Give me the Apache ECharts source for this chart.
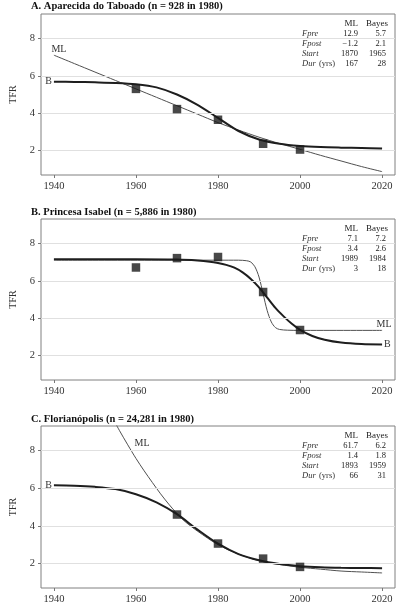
<!DOCTYPE html>
<html><head><meta charset="utf-8">
<script src="https://cdn.jsdelivr.net/npm/echarts@6/dist/echarts.min.js"></script>
<style>html,body{margin:0;padding:0;background:#fff}#c{width:400px;height:610px}</style>
</head><body><div id="c"></div>
<script>
const xTicks = [1940, 1960, 1980, 2000, 2020];
const yTicks = [2, 4, 6, 8];
const titles = ['A. Aparecida do Taboado (n = 928 in 1980)', 'B. Princesa Isabel (n = 5,886 in 1980)', 'C. Florianópolis (n = 24,281 in 1980)'];

// Panel A
const obsYearsA = [1960, 1970, 1980, 1991, 2000];
const obsA = [5.3, 4.22, 3.65, 2.37, 2.06];
const bayesYearsA = [1940, 1945, 1950, 1955, 1960, 1965, 1970, 1975, 1980, 1985, 1990, 1995, 2000, 2005, 2010, 2015, 2020];
const bayesA = [5.68, 5.67, 5.65, 5.62, 5.55, 5.38, 5.0, 4.45, 3.75, 3.05, 2.6, 2.37, 2.25, 2.19, 2.16, 2.14, 2.12];
const mlYearsA = [1940, 1945, 1950, 1955, 1960, 1965, 1970, 1975, 1980, 1985, 1990, 1995, 2000, 2005, 2010, 2015, 2020];
const mlA = [7.1, 6.65, 6.2, 5.75, 5.3, 4.85, 4.4, 3.95, 3.5, 3.1, 2.72, 2.38, 2.07, 1.75, 1.45, 1.15, 0.88];

// Panel B
const obsYearsB = [1960, 1970, 1980, 1991, 2000];
const obsB = [6.71, 7.21, 7.27, 5.4, 3.37];
const bayesYearsB = [1940, 1950, 1960, 1970, 1975, 1978, 1980, 1982, 1984, 1986, 1988, 1990, 1992, 1994, 1996, 1998, 2000, 2003, 2006, 2010, 2015, 2020];
const bayesB = [7.15, 7.15, 7.15, 7.13, 7.08, 7.02, 6.95, 6.85, 6.7, 6.45, 6.1, 5.65, 5.1, 4.55, 4.1, 3.7, 3.38, 3.05, 2.85, 2.7, 2.62, 2.6];
const mlYearsB = [1940, 1980, 1985, 1987, 1988, 1989, 1990, 1991, 1992, 1993, 1994, 1995, 1997, 2000, 2020];
const mlB = [7.1, 7.1, 7.1, 7.07, 7.0, 6.75, 6.2, 5.3, 4.4, 3.8, 3.5, 3.4, 3.36, 3.35, 3.35];

// Panel C
const obsYearsC = [1970, 1980, 1991, 2000];
const obsC = [4.6, 3.06, 2.26, 1.82];
const bayesYearsC = [1940, 1945, 1950, 1955, 1960, 1965, 1970, 1975, 1980, 1985, 1990, 1995, 2000, 2005, 2010, 2015, 2020];
const bayesC = [6.15, 6.13, 6.07, 5.95, 5.68, 5.25, 4.62, 3.8, 3.05, 2.5, 2.17, 1.97, 1.86, 1.8, 1.77, 1.76, 1.75];
const mlYearsC = [1954, 1956, 1958, 1960, 1962, 1964, 1966, 1968, 1970, 1972, 1975, 1980, 1985, 1990, 1995, 2000, 2005, 2010, 2015, 2020];
const mlC = [9.85, 9.05, 8.3, 7.58, 6.92, 6.3, 5.7, 5.15, 4.65, 4.22, 3.72, 3.0, 2.5, 2.15, 1.95, 1.8, 1.7, 1.6, 1.55, 1.5];

// Parameter tables
const tableHeads = ['ML', 'Bayes'];
const tableRows = ['Fpre', 'Fpost', 'Start', 'Dur'];
const mlParamsA = ['12.9', '\u22121.2', '1870', '167'];
const bayesParamsA = ['5.7', '2.1', '1965', '28'];
const mlParamsB = ['7.1', '3.4', '1989', '3'];
const bayesParamsB = ['7.2', '2.6', '1984', '18'];
const mlParamsC = ['61.7', '1.4', '1893', '66'];
const bayesParamsC = ['6.2', '1.8', '1959', '31'];

const FONT = 'Liberation Serif';
const grids = [
  {left: 31, right: 5, top: 14, height: 161},
  {left: 31, right: 5, top: 219, height: 161},
  {left: 31, right: 5, top: 426, height: 162}
];
const titleTops = [1, 207, 414];

const panels = [
  {obsX: obsYearsA, obs: obsA, bX: bayesYearsA, b: bayesA, mX: mlYearsA, m: mlA, ml: mlParamsA, ba: bayesParamsA,
   bLabel: {at: 'start', pos: 'left'}, mLabel: {at: 'start', pos: 'top', offset: [5, 1]}},
  {obsX: obsYearsB, obs: obsB, bX: bayesYearsB, b: bayesB, mX: mlYearsB, m: mlB, ml: mlParamsB, ba: bayesParamsB,
   bLabel: {at: 'end', pos: 'right'}, mLabel: {at: 'end', pos: 'top', offset: [2, 1]}},
  {obsX: obsYearsC, obs: obsC, bX: bayesYearsC, b: bayesC, mX: mlYearsC, m: mlC, ml: mlParamsC, ba: bayesParamsC,
   bLabel: {at: 'start', pos: 'left'}, mLabel: {coord: [1961.5, 8.4], pos: 'inside'}}
];

const zip = (xs, ys) => xs.map((x, i) => [x, ys[i]]);

function labelPoint(xs, ys, spec, text) {
  let coord;
  if (spec.coord) coord = spec.coord;
  else if (spec.at === 'start') coord = [xs[0], ys[0]];
  else coord = [xs[xs.length - 1], ys[ys.length - 1]];
  return {
    silent: true, symbol: 'circle', symbolSize: 0,
    data: [{coord: coord, label: {show: true, position: spec.pos, distance: 2, offset: spec.offset || [0, 0],
      formatter: text, fontFamily: FONT, fontSize: 10, color: '#333'}}]
  };
}

const option = {
  animation: false,
  backgroundColor: '#fff',
  title: titles.map((t, i) => ({text: t, left: 31, top: titleTops[i], padding: 0,
    textStyle: {fontFamily: FONT, fontWeight: 'bold', fontSize: 10.5, color: '#111'}})),
  grid: grids.map(g => Object.assign({show: true, borderColor: '#808080', borderWidth: 1}, g)),
  xAxis: grids.map((g, i) => ({
    type: 'value', gridIndex: i, min: 1936.85, max: 2023.15,
    axisLine: {show: false}, splitLine: {show: false},
    axisTick: {show: true, length: 3, lineStyle: {color: '#777'}, customValues: xTicks},
    axisLabel: {customValues: xTicks, margin: 6, fontFamily: FONT, fontSize: 10.5, color: '#333',
      formatter: v => String(Math.round(v))}
  })),
  yAxis: grids.map((g, i) => ({
    type: 'value', gridIndex: i, min: 0.7, max: 9.3,
    name: 'TFR', nameLocation: 'middle', nameGap: 23,
    nameTextStyle: {fontFamily: FONT, fontSize: 10, color: '#333'},
    axisLine: {show: false}, splitLine: {show: false},
    axisTick: {show: true, length: 3, lineStyle: {color: '#777'}, customValues: yTicks},
    axisLabel: {customValues: yTicks, margin: 6, fontFamily: FONT, fontSize: 10.5, color: '#333'}
  })),
  series: [],
  graphic: []
};

panels.forEach((p, i) => {
  option.series.push({
    type: 'line', xAxisIndex: i, yAxisIndex: i, data: [], z: 1, silent: true,
    markLine: {silent: true, symbol: ['none', 'none'], label: {show: false},
      lineStyle: {color: '#e0e0e0', type: 'solid', width: 1},
      data: yTicks.map(v => ({yAxis: v}))}
  });
  option.series.push({
    type: 'line', xAxisIndex: i, yAxisIndex: i, data: zip(p.mX, p.m), z: 3,
    showSymbol: false, smooth: 0.3, clip: true,
    lineStyle: {color: '#505050', width: 1},
    markPoint: labelPoint(p.mX, p.m, p.mLabel, 'ML')
  });
  option.series.push({
    type: 'line', xAxisIndex: i, yAxisIndex: i, data: zip(p.bX, p.b), z: 4,
    showSymbol: false, smooth: 0.3, clip: true,
    lineStyle: {color: '#1e1e1e', width: 2},
    markPoint: labelPoint(p.bX, p.b, p.bLabel, 'B')
  });
  option.series.push({
    type: 'scatter', xAxisIndex: i, yAxisIndex: i, data: zip(p.obsX, p.obs), z: 5,
    symbol: 'rect', symbolSize: 8.5, itemStyle: {color: '#1a1a1a'}
  });

  const top = grids[i].top + 10;
  const els = [];
  const ts = {fontFamily: FONT, fontSize: 8.5, fill: '#222'};
  els.push({type: 'text', x: 358, y: top, style: Object.assign({text: tableHeads[0], textAlign: 'right', textVerticalAlign: 'middle'}, ts, {fontSize: 9})});
  els.push({type: 'text', x: 388, y: top, style: Object.assign({text: tableHeads[1], textAlign: 'right', textVerticalAlign: 'middle'}, ts, {fontSize: 9})});
  tableRows.forEach((r, k) => {
    const y = top + 10 * (k + 1);
    const txt = r === 'Dur' ? '{i|Dur} {n|(yrs)}' : '{i|' + r + '}';
    els.push({type: 'text', x: 302, y: y, style: {text: txt, textAlign: 'left', textVerticalAlign: 'middle',
      rich: {i: {fontFamily: FONT, fontStyle: 'italic', fontSize: 8.5, fill: '#333'}, n: {fontFamily: FONT, fontSize: 8.5, fill: '#333'}}}});
    els.push({type: 'text', x: 358, y: y, style: Object.assign({text: p.ml[k], textAlign: 'right', textVerticalAlign: 'middle'}, ts)});
    els.push({type: 'text', x: 386, y: y, style: Object.assign({text: p.ba[k], textAlign: 'right', textVerticalAlign: 'middle'}, ts)});
  });
  els.forEach(e => option.graphic.push(e));
});

const chart = echarts.init(document.getElementById('c'), null, {renderer: 'canvas'});
chart.setOption(option);
</script></body></html>
